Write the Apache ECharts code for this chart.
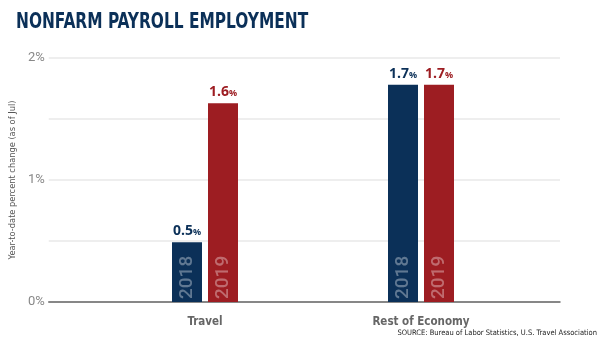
<!DOCTYPE html>
<html><head><meta charset="utf-8">
<script src="https://cdn.jsdelivr.net/npm/echarts@6/dist/echarts.min.js"></script>
<style>html,body{margin:0;padding:0;background:#fff}#c{width:610px;height:347px}</style>
</head><body><div id="c"></div>
<script>
const categories = ["Travel", "Rest of Economy"];
const seriesNames = ["2018", "2019"];
const values2018 = [0.49, 1.78];
const values2019 = [1.63, 1.78];
const labels2018 = ["0.5", "1.7"];
const labels2019 = ["1.6", "1.7"];
const yTicks = [0, 0.5, 1, 1.5, 2];

const navy = "#0b3058", red = "#9d1d22";
const chart = echarts.init(document.getElementById('c'));
function labelCfg(color) {
  return {
    show: true, position: 'top', distance: 4,
    formatter: p => '{a|' + p.data.lab + '}{b|%}',
    rich: {
      a: { fontFamily: 'Open Sans', fontWeight: 'bold', fontSize: 14, color: color },
      b: { fontFamily: 'Open Sans', fontWeight: 'bold', fontSize: 9, color: color, padding: [3, 0, 0, 0] }
    }
  };
}
function mk(name, vals, labs, color, axis) {
  return {
    type: 'bar', name: name, xAxisIndex: axis, yAxisIndex: axis,
    barWidth: 30, barGap: '20%',
    itemStyle: { color: color },
    data: vals.map((v, i) => ({ value: v, lab: labs[i] })),
    label: labelCfg(color)
  };
}
function yearSeries(name, vals) {
  return {
    type: 'bar', name: name + 'y', xAxisIndex: 2, yAxisIndex: 2,
    barWidth: 30, barGap: '20%', silent: true,
    itemStyle: { color: 'rgba(0,0,0,0)' },
    data: vals.slice(),
    label: {
      show: true, position: 'insideBottom', rotate: 90, align: 'left', verticalAlign: 'middle',
      distance: 3,
      formatter: name, fontFamily: 'Roboto', fontWeight: 500, fontSize: 19, color: 'rgba(255,255,255,0.35)'
    }
  };
}
const hiddenX = g => ({ gridIndex: g, type: 'category', data: categories, show: false });
chart.setOption({
  animation: false,
  grid: [
    { left: 47, right: 50, top: 58, bottom: 45 },
    { left: 97, width: 432, top: 58, bottom: 45 },
    { left: 97, width: 432, top: 58, bottom: 45 }
  ],
  xAxis: [
    { gridIndex: 0, type: 'category', data: categories, show: true,
      axisLine: { show: true, lineStyle: { color: '#666', width: 1.5 } },
      axisTick: { show: false }, axisLabel: { show: false } },
    { gridIndex: 1, type: 'category', data: categories,
      axisLine: { show: false }, axisTick: { show: false },
      axisLabel: { margin: 14, fontFamily: 'DejaVu Sans Condensed', fontWeight: 'bold', fontSize: 11.5, color: '#666' } },
    hiddenX(2)
  ],
  yAxis: [
    { gridIndex: 0, type: 'value', min: 0, max: 2, interval: 0.5,
      name: 'Year-to-date percent change (as of Jul)', nameLocation: 'middle', nameGap: 29,
      nameTextStyle: { fontFamily: 'DejaVu Sans Condensed', fontSize: 9.2, color: '#555' },
      axisLine: { show: false }, axisTick: { show: false },
      splitLine: { lineStyle: { color: '#e8e8e8', width: 1.5 } },
      axisLabel: { margin: 4, fontFamily: 'Roboto', fontSize: 13, color: '#888',
        formatter: v => (Number.isInteger(v) ? v + '%' : '') } },
    { gridIndex: 1, type: 'value', min: 0, max: 2, interval: 0.5, show: false },
    { gridIndex: 2, type: 'value', min: 0, max: 2, interval: 0.5, show: false }
  ],
  series: [
    mk("2018", values2018, labels2018, navy, 1),
    mk("2019", values2019, labels2019, red, 1),
    yearSeries("2018", values2018), yearSeries("2019", values2019)
  ],
  graphic: [{
    type: 'text', left: 16, top: 12, scaleX: 0.815,
    style: { text: 'NONFARM PAYROLL EMPLOYMENT',
      font: 'bold 21px "DejaVu Sans Condensed"', fill: '#0b3058' }
  }, {
    type: 'text', right: 13, top: 329,
    style: { text: 'SOURCE: Bureau of Labor Statistics, U.S. Travel Association',
      font: '7.5px "DejaVu Sans Condensed"', fill: '#222' }
  }]
});
</script></body></html>
